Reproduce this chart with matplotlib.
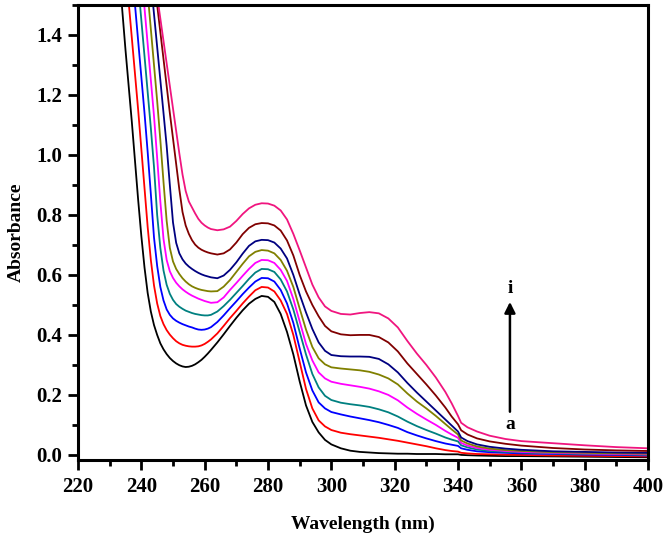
import matplotlib
matplotlib.use("Agg")
import matplotlib.pyplot as plt
from matplotlib.ticker import MultipleLocator

wavelength = [232, 233, 234, 235, 236, 237, 238, 239, 240, 241, 242, 243, 244, 245, 246,
              247, 248, 249, 250, 251, 252, 253, 254, 255, 256, 257, 258, 259, 260, 261, 262,
              264, 266, 268, 270, 272, 274, 276, 278, 280, 282, 284, 286, 288, 290,
              292, 294, 296, 298, 300, 303, 306, 309, 312, 315, 318, 321, 324, 327, 330,
              333, 336, 338, 340, 341, 343, 346, 350, 355, 360, 370, 380, 390, 400]

abs_a = [1.74, 1.61, 1.48, 1.35, 1.23, 1.11, 0.98, 0.85, 0.73, 0.625, 0.54, 0.478, 0.433, 0.40, 0.372,
         0.352, 0.336, 0.323, 0.313, 0.305, 0.299, 0.295, 0.293, 0.294, 0.297, 0.302, 0.309, 0.317, 0.327, 0.338, 0.35,
         0.375, 0.402, 0.43, 0.457, 0.482, 0.504, 0.52, 0.53, 0.527, 0.51, 0.47, 0.41, 0.335, 0.245,
         0.165, 0.11, 0.075, 0.05, 0.035, 0.022, 0.014, 0.010, 0.008, 0.006, 0.005, 0.004, 0.004, 0.003, 0.003,
         0.003, 0.002, 0.002, 0.002, 0.0, -0.001, -0.002, -0.003, -0.004, -0.004, -0.005, -0.006, -0.007, -0.008]

abs_b = [2.02, 1.89, 1.77, 1.64, 1.51, 1.39, 1.27, 1.15, 1.02, 0.89, 0.76, 0.65, 0.565, 0.505, 0.463,
         0.436, 0.416, 0.401, 0.389, 0.379, 0.372, 0.367, 0.364, 0.362, 0.361, 0.361, 0.362, 0.365, 0.37, 0.377, 0.385,
         0.405, 0.43, 0.456, 0.48, 0.505, 0.528, 0.549, 0.56, 0.558, 0.545, 0.515, 0.47, 0.40, 0.31,
         0.22, 0.155, 0.115, 0.095, 0.083, 0.074, 0.069, 0.065, 0.061, 0.057, 0.052, 0.047, 0.041, 0.035, 0.029,
         0.022, 0.016, 0.013, 0.011, 0.007, 0.005, 0.003, 0.002, 0.001, 0.0, -0.002, -0.003, -0.004, -0.005]

abs_c = [2.28, 2.15, 2.02, 1.89, 1.76, 1.63, 1.50, 1.38, 1.26, 1.14, 1.01, 0.87, 0.725, 0.63, 0.56,
         0.515, 0.485, 0.467, 0.455, 0.447, 0.441, 0.436, 0.432, 0.428, 0.425, 0.421, 0.418, 0.417, 0.418, 0.421, 0.426,
         0.443, 0.465, 0.489, 0.512, 0.536, 0.558, 0.578, 0.59, 0.589, 0.578, 0.55, 0.505, 0.44, 0.355,
         0.275, 0.215, 0.175, 0.155, 0.143, 0.135, 0.128, 0.122, 0.116, 0.109, 0.10, 0.09, 0.076, 0.065, 0.055,
         0.046, 0.038, 0.034, 0.030, 0.022, 0.017, 0.012, 0.009, 0.007, 0.005, 0.003, 0.001, 0.0, -0.002]

abs_d = [2.41, 2.29, 2.17, 2.05, 1.93, 1.81, 1.69, 1.57, 1.45, 1.33, 1.21, 1.09, 0.96, 0.80, 0.69,
         0.615, 0.567, 0.537, 0.517, 0.503, 0.494, 0.487, 0.481, 0.477, 0.473, 0.47, 0.468, 0.466, 0.465, 0.465, 0.467,
         0.478, 0.496, 0.517, 0.54, 0.563, 0.587, 0.608, 0.62, 0.619, 0.61, 0.585, 0.545, 0.485, 0.41,
         0.335, 0.27, 0.225, 0.197, 0.183, 0.174, 0.169, 0.165, 0.16, 0.152, 0.142, 0.128, 0.111, 0.096, 0.083,
         0.071, 0.058, 0.051, 0.045, 0.032, 0.025, 0.018, 0.013, 0.010, 0.008, 0.005, 0.003, 0.002, 0.0]

abs_e = [2.57, 2.45, 2.33, 2.21, 2.09, 1.97, 1.85, 1.73, 1.61, 1.49, 1.37, 1.25, 1.13, 0.99, 0.845,
         0.72, 0.65, 0.612, 0.59, 0.574, 0.562, 0.552, 0.544, 0.537, 0.531, 0.526, 0.521, 0.517, 0.513, 0.51, 0.507,
         0.509, 0.525, 0.55, 0.573, 0.597, 0.62, 0.64, 0.65, 0.649, 0.64, 0.617, 0.58, 0.52, 0.445,
         0.37, 0.315, 0.275, 0.255, 0.244, 0.237, 0.232, 0.227, 0.221, 0.212, 0.20, 0.182, 0.158, 0.137, 0.118,
         0.10, 0.08, 0.068, 0.057, 0.040, 0.031, 0.023, 0.017, 0.013, 0.010, 0.007, 0.005, 0.003, 0.002]

abs_f = [2.74, 2.62, 2.5, 2.38, 2.26, 2.14, 2.02, 1.90, 1.78, 1.66, 1.54, 1.42, 1.30, 1.18, 1.05,
         0.91, 0.78, 0.69, 0.645, 0.62, 0.603, 0.589, 0.578, 0.569, 0.562, 0.557, 0.553, 0.55, 0.548, 0.546, 0.545,
         0.546, 0.561, 0.583, 0.61, 0.637, 0.662, 0.677, 0.683, 0.681, 0.672, 0.65, 0.614, 0.56, 0.488,
         0.418, 0.36, 0.322, 0.302, 0.292, 0.288, 0.285, 0.282, 0.277, 0.268, 0.255, 0.235, 0.205, 0.178, 0.155,
         0.13, 0.103, 0.085, 0.068, 0.048, 0.038, 0.028, 0.021, 0.016, 0.013, 0.009, 0.007, 0.005, 0.004]

abs_g = [2.79, 2.68, 2.57, 2.46, 2.35, 2.24, 2.13, 2.02, 1.91, 1.80, 1.69, 1.58, 1.47, 1.36, 1.25,
         1.14, 1.03, 0.90, 0.775, 0.707, 0.672, 0.652, 0.638, 0.628, 0.62, 0.613, 0.607, 0.602, 0.598, 0.595, 0.592,
         0.589, 0.598, 0.617, 0.642, 0.671, 0.697, 0.712, 0.717, 0.716, 0.708, 0.688, 0.655, 0.60, 0.535,
         0.475, 0.42, 0.375, 0.347, 0.333, 0.329, 0.328, 0.328, 0.327, 0.32, 0.302, 0.275, 0.24, 0.208, 0.178,
         0.148, 0.118, 0.098, 0.078, 0.058, 0.046, 0.035, 0.027, 0.021, 0.017, 0.012, 0.010, 0.008, 0.007]

abs_h = [2.67, 2.58, 2.49, 2.40, 2.31, 2.22, 2.13, 2.04, 1.95, 1.86, 1.77, 1.68, 1.59, 1.50, 1.41,
         1.32, 1.23, 1.14, 1.055, 0.97, 0.885, 0.81, 0.765, 0.737, 0.716, 0.701, 0.691, 0.684, 0.679, 0.675, 0.672,
         0.668, 0.672, 0.685, 0.708, 0.736, 0.757, 0.769, 0.773, 0.772, 0.765, 0.748, 0.715, 0.665, 0.60,
         0.545, 0.50, 0.462, 0.43, 0.412, 0.402, 0.399, 0.40, 0.40, 0.393, 0.375, 0.345, 0.305, 0.27, 0.235,
         0.198, 0.158, 0.128, 0.102, 0.082, 0.068, 0.055, 0.045, 0.037, 0.031, 0.023, 0.018, 0.015, 0.013]

abs_i = [2.50, 2.425, 2.35, 2.275, 2.20, 2.125, 2.05, 1.975, 1.90, 1.825, 1.75, 1.675, 1.60, 1.53, 1.455,
         1.38, 1.305, 1.23, 1.155, 1.08, 1.005, 0.935, 0.88, 0.845, 0.825, 0.805, 0.787, 0.774, 0.765, 0.758, 0.753,
         0.749, 0.752, 0.761, 0.78, 0.803, 0.822, 0.834, 0.839, 0.838, 0.831, 0.815, 0.785, 0.737, 0.682,
         0.625, 0.568, 0.525, 0.495, 0.48, 0.47, 0.468, 0.473, 0.476, 0.472, 0.455, 0.425, 0.38, 0.338, 0.30,
         0.258, 0.21, 0.172, 0.13, 0.107, 0.092, 0.078, 0.064, 0.053, 0.046, 0.039, 0.032, 0.026, 0.022]

series = [abs_a, abs_b, abs_c, abs_d, abs_e, abs_f, abs_g, abs_h, abs_i]
colors = ["#000000", "#ff0000", "#0000ff", "#008080", "#ff00ff",
          "#808000", "#000080", "#800000", "#f0157f"]

x_ticks = [220, 240, 260, 280, 300, 320, 340, 360, 380, 400]
y_ticks = [0.0, 0.2, 0.4, 0.6, 0.8, 1.0, 1.2, 1.4]

font = "Liberation Serif"
plt.rcParams["font.family"] = [font, "DejaVu Serif"]
plt.rcParams["font.weight"] = "bold"

fig = plt.figure(figsize=(6.66, 5.36), dpi=100)
ax = fig.add_axes([78 / 666, 1 - 460 / 536, (648 - 78) / 666, (460 - 5) / 536])

for ys, c in zip(series, colors):
    ax.plot(wavelength, ys, color=c, lw=1.3, solid_joinstyle="round")

ax.set_xlim(220, 400)
ax.set_ylim(-0.017, 1.5)
ax.set_xticks(x_ticks)
ax.set_yticks(y_ticks)
ax.set_xticklabels([str(t) for t in x_ticks])
ax.set_yticklabels([f"{t:.1f}" for t in y_ticks])
ax.xaxis.set_minor_locator(MultipleLocator(10))
ax.yaxis.set_minor_locator(MultipleLocator(0.1))
ax.tick_params(which="major", direction="out", length=7, width=2, labelsize=15)
ax.tick_params(which="minor", direction="out", length=4, width=2)
ax.tick_params(axis="x", which="major", pad=5.5)
ax.tick_params(axis="y", which="major", pad=4.5)
for lab in ax.get_xticklabels() + ax.get_yticklabels():
    lab.set_fontweight("bold")
for s in ax.spines.values():
    s.set_linewidth(2.2)

ax.set_xlabel("Wavelength (nm)", fontsize=14, fontweight="bold", labelpad=13)
ax.set_ylabel("Absorbance", fontsize=14, fontweight="bold", labelpad=8)

ax.annotate("", xy=(356.4, 0.51), xytext=(356.4, 0.144),
            arrowprops=dict(arrowstyle="-|>", color="black", lw=1.8,
                            mutation_scale=16, shrinkA=0, shrinkB=0))
ax.text(356.4, 0.10, "a", ha="center", va="center", fontsize=14, fontweight="bold")
ax.text(356.4, 0.556, "i", ha="center", va="center", fontsize=14, fontweight="bold")

fig.savefig("out.png", dpi=100)
